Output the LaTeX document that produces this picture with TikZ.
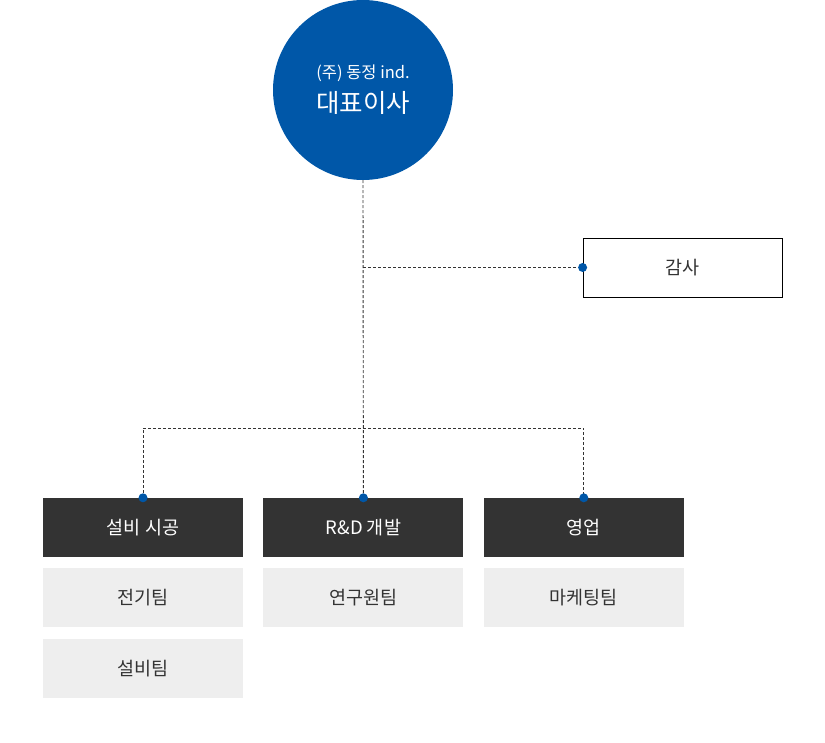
\documentclass[tikz,border=0pt]{standalone}
\usepackage{fontspec}
\setmainfont{Noto Sans CJK KR}
\usetikzlibrary{positioning}
\definecolor{ceoblue}{HTML}{0057A8}
\definecolor{darkbox}{HTML}{333333}
\definecolor{lightbox}{HTML}{EEEEEE}

\begin{document}
\begin{tikzpicture}[x=1pt,y=-1pt,node distance=11pt and 20pt]
    \tikzstyle{dept} = [rectangle, fill=darkbox, text=white, inner sep=0pt,
      minimum width=200pt, minimum height=59pt,
      font=\fontsize{18.5}{22}\selectfont]
    \tikzstyle{team} = [dept, fill=lightbox, text=darkbox]
    \tikzstyle{audit} = [dept, fill=white, draw=black, line width=0.8pt,
      text=darkbox, minimum width=199pt]
    \tikzstyle{line} = [draw=darkbox, line width=0.9pt, dash pattern=on 3pt off 2pt]
    \tikzstyle{dot} = [circle, fill=ceoblue, inner sep=0pt, minimum size=9pt]

    \useasboundingbox (0,0) rectangle (825,743);

    % CEO
    \node[circle, fill=ceoblue, text=white, minimum size=180pt, align=center,
      font=\fontsize{16.5}{34}\selectfont]
      (ceo) at (363,90)
      {(주) 동정 ind.\\
       {\fontsize{25.5}{34}\selectfont 대표이사}};

    % audit
    \node[audit] (gamsa) at (682.5,267.5) {감사};

    % departments
    \node[dept] (sebi) at (143,527.5) {설비 시공};
    \node[dept, right=of sebi] (rnd) {R\&D 개발};
    \node[dept, right=of rnd] (sales) {영업};

    % teams
    \node[team, below=of sebi] (jeongi) {전기팀};
    \node[team, below=of jeongi] (sebiteam) {설비팀};
    \node[team, below=of rnd] (yeongu) {연구원팀};
    \node[team, below=of sales] (marketing) {마케팅팀};

    % lines
    \coordinate (split) at (363,428);
    \draw[line] (ceo.south) -- (rnd.north);
    \draw[line] (ceo.south |- gamsa.west) -- (gamsa.west);
    \draw[line] (sebi.north) -- (sebi.north |- split) -- (sales.north |- split)
      -- (sales.north);

    \node[dot] (dotgamsa) at (gamsa.west) {};
    \node[dot] (dotsebi) at (sebi.north) {};
    \node[dot] (dotrnd) at (rnd.north) {};
    \node[dot] (dotsales) at (sales.north) {};

  \end{tikzpicture}
\end{document}
